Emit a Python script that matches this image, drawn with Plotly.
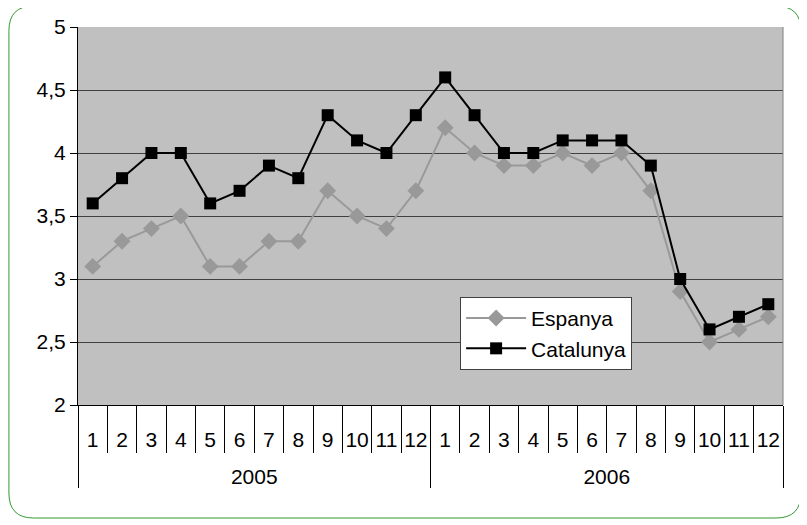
import plotly.graph_objects as go

# months for each year
years = ["2005"] * 12 + ["2006"] * 12
months = [str(m) for m in range(1, 13)] * 2

espanya = [3.1, 3.3, 3.4, 3.5, 3.1, 3.1, 3.3, 3.3, 3.7, 3.5, 3.4, 3.7,
           4.2, 4.0, 3.9, 3.9, 4.0, 3.9, 4.0, 3.7, 2.9, 2.5, 2.6, 2.7]
catalunya = [3.6, 3.8, 4.0, 4.0, 3.6, 3.7, 3.9, 3.8, 4.3, 4.1, 4.0, 4.3,
             4.6, 4.3, 4.0, 4.0, 4.1, 4.1, 4.1, 3.9, 3.0, 2.6, 2.7, 2.8]

# year labels pushed down a bit, like the excel chart
year_lbl = ["<span style='font-size:28px'> </span><br>" + y for y in years]

fig = go.Figure()
fig.add_trace(go.Scatter(
    x=[year_lbl, months], y=espanya, name="Espanya", mode="lines+markers",
    line=dict(color="#999999", width=2),
    marker=dict(symbol="diamond", size=13, color="#999999")
))
fig.add_trace(go.Scatter(
    x=[year_lbl, months], y=catalunya, name="Catalunya", mode="lines+markers",
    line=dict(color="#000000", width=2),
    marker=dict(symbol="square", size=12, color="#000000")
))

fig.update_layout(
    width=799, height=517,
    margin=dict(l=70, r=24, t=19, b=120),
    plot_bgcolor="#C0C0C0", paper_bgcolor="white",
    font=dict(family="Liberation Sans, Arial", size=21, color="black"),
    separators=", ",
    showlegend=True,
    legend=dict(x=0.542, y=0.286, xanchor="left", yanchor="top",
                bgcolor="white", bordercolor="#404040", borderwidth=1,
                font=dict(size=21), tracegroupgap=0, itemwidth=60),
    xaxis=dict(type="multicategory", range=[-0.5, 23.5],
               showgrid=False, showline=True,
               linecolor="black", linewidth=1, ticks="outside",
               tickson="boundaries", ticklen=47, tickcolor="black",
               tickangle=0, automargin=False, ticklabelstandoff=16,
               showdividers=True, dividercolor="black", dividerwidth=1),
    yaxis=dict(range=[2, 5], dtick=0.5, showgrid=True, gridcolor="#404040",
               gridwidth=1, showline=True, linecolor="black",
               ticks="outside", ticklen=7, tickcolor="black", zeroline=False,
               tickformat=".1~f", automargin=False),
)

# plot area right edge
fig.add_shape(type="line", xref="paper", yref="paper", x0=1, x1=1, y0=0, y1=1,
              line=dict(color="#808080", width=1))

# rounded green outline around the chart
fig.add_shape(type="path", xref="paper", yref="paper",
              path="M -0.098,0.99 Q -0.098,1.0556 -0.063,1.0556 L 0.99,1.0556 "
                   "Q 1.0255,1.0556 1.0255,0.99 L 1.0255,-0.233 "
                   "Q 1.0255,-0.299 0.99,-0.299 L -0.063,-0.299 "
                   "Q -0.098,-0.299 -0.098,-0.233 Z",
              line=dict(color="#339933", width=1))

fig.write_html("out.html")
